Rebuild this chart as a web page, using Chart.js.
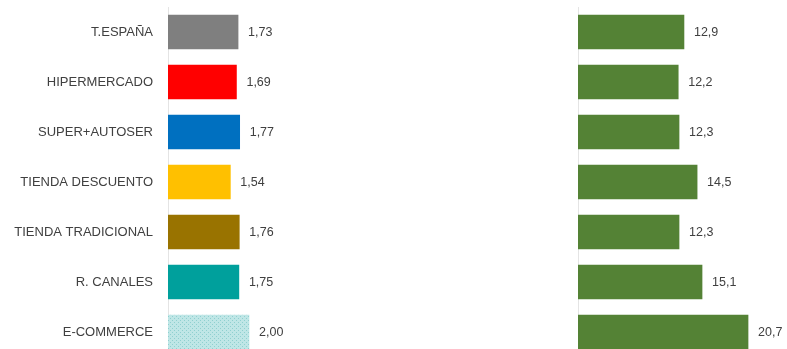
<!DOCTYPE html>
<html>
<head>
<meta charset="utf-8">
<script src="https://cdn.jsdelivr.net/npm/chart.js@4"></script>
<style>
  html, body { margin: 0; padding: 0; background: #fff; overflow: hidden; }
  #wrapLeft { position: absolute; left: 0; top: 0; width: 330px; height: 357px; }
  #wrapRight { position: absolute; left: 577px; top: 0; width: 208px; height: 357px; }
</style>
</head>
<body>
<div id="wrapLeft"><canvas id="left"></canvas></div>
<div id="wrapRight"><canvas id="right"></canvas></div>
<script>
var categories = ['T.ESPAÑA', 'HIPERMERCADO', 'SUPER+AUTOSER', 'TIENDA DESCUENTO', 'TIENDA TRADICIONAL', 'R. CANALES', 'E-COMMERCE'];
var leftValues = [1.73, 1.69, 1.77, 1.54, 1.76, 1.75, 2.00];
var rightValues = [12.9, 12.2, 12.3, 14.5, 12.3, 15.1, 20.7];
var leftColors = ['#7f7f7f', '#ff0000', '#0070c0', '#ffc000', '#997300', '#00a09c', 'pattern'];
var rightColor = '#548235';

var FONT = '"Liberation Sans", Arial, sans-serif';

// dotted light teal fill for e-commerce
function makePattern() {
    var c = document.createElement('canvas');
    c.width = 4; c.height = 4;
    var g = c.getContext('2d');
    g.fillStyle = '#bfe6e6';
    g.fillRect(0, 0, 4, 4);
    g.fillStyle = '#8fd0d0';
    g.fillRect(0, 0, 1, 1);
    g.fillRect(2, 2, 1, 1);
    return g.createPattern(c, 'repeat');
}
var pattern = makePattern();
var barColors = leftColors.map(function (c) { return c === 'pattern' ? pattern : c; });

// draws value labels at the end of the bars
var valueLabels = {
    id: 'valueLabels',
    afterDatasetsDraw: function (chart, args, opts) {
        var ctx = chart.ctx;
        var meta = chart.getDatasetMeta(0);
        ctx.save();
        ctx.font = '12.5px ' + FONT;
        ctx.fillStyle = '#404040';
        ctx.textBaseline = 'middle';
        ctx.textAlign = 'left';
        meta.data.forEach(function (bar, i) {
            var v = chart.data.datasets[0].data[i];
            ctx.fillText(v.toFixed(opts.decimals).replace('.', ','), bar.x + 10, bar.y + 1);
        });
        ctx.restore();
    }
};

function makeChart(id, values, colors, max, decimals, yWidth, showTicks) {
    return new Chart(document.getElementById(id).getContext('2d'), {
        type: 'bar',
        data: {
            labels: categories,
            datasets: [{
                data: values,
                backgroundColor: colors,
                borderWidth: 0,
                barThickness: 34
            }]
        },
        options: {
            indexAxis: 'y',
            responsive: true,
            maintainAspectRatio: false,
            animation: false,
            layout: { padding: { top: 7, bottom: 0, left: 0, right: 0 } },
            plugins: {
                legend: { display: false },
                tooltip: { enabled: false },
                valueLabels: { decimals: decimals }
            },
            scales: {
                x: {
                    display: false,
                    min: 0,
                    max: max
                },
                y: {
                    grid: { display: false },
                    border: { display: true, color: '#e4e4e4', width: 1 },
                    ticks: {
                        display: showTicks,
                        color: '#404040',
                        font: { family: FONT, size: 13 },
                        padding: 7
                    },
                    afterFit: function (scale) {
                        scale.width = yWidth;
                        scale.paddingTop = 0;
                        scale.paddingBottom = 0;
                    }
                }
            }
        },
        plugins: [valueLabels]
    });
}

makeChart('left', leftValues, barColors, 4, 2, 168, true);
makeChart('right', rightValues, rightColor, 25.2, 1, 1, false);
</script>
</body>
</html>
